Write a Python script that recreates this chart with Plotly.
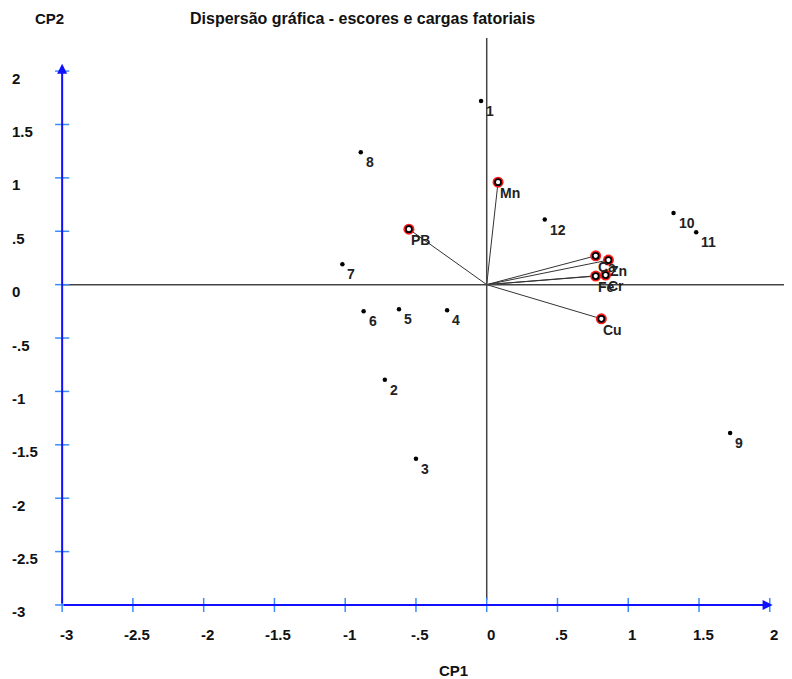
import plotly.graph_objects as go

# ---- data ----
score_labels = ["1", "2", "3", "4", "5", "6", "7", "8", "9", "10", "11", "12"]
score_x = [-0.04, -0.72, -0.50, -0.28, -0.62, -0.87, -1.02, -0.89, 1.72, 1.32, 1.48, 0.41]
score_y = [1.72, -0.89, -1.63, -0.24, -0.23, -0.25, 0.19, 1.24, -1.39, 0.67, 0.49, 0.61]

load_labels = ["PB", "Mn", "Ca", "Zn", "Cr", "Fe", "Cu"]
load_x = [-0.55, 0.08, 0.77, 0.86, 0.84, 0.77, 0.81]
load_y = [0.52, 0.96, 0.27, 0.23, 0.09, 0.08, -0.32]

tick_vals = [-3, -2.5, -2, -1.5, -1, -0.5, 0, 0.5, 1, 1.5, 2]
tick_text = ["-3", "-2.5", "-2", "-1.5", "-1", "-.5", "0", ".5", "1", "1.5", "2"]

title_text = "Dispersão gráfica - escores e cargas fatoriais"
xlab, ylab = "CP1", "CP2"

# ---- layout geometry (page has an 8px body margin) ----
OFF = 8
W, H = 792 - OFF, 679 - OFF
ML, MR, MT, MB = 48 - OFF, 1, 38 - OFF, 58
XR = [-3.1, 2.15]
YR = [-3.15, 2.31]
PW, PH = W - ML - MR, H - MT - MB

def px(x):
    return (x - OFF - ML) / PW

def py(y):
    return (H - MB - (y - OFF)) / PH

FONT = "Liberation Sans Narrow, Arial Narrow, Liberation Sans, Arial"
LFONT = "Liberation Sans, Arial"
BLUE = "#1010ff"
LBLUE = "#3a8cff"

fig = go.Figure()

# loading lines from origin
lx, ly = [], []
for a, b in zip(load_x, load_y):
    lx += [0, a, None]
    ly += [0, b, None]
fig.add_trace(go.Scatter(x=lx, y=ly, mode="lines",
                         line=dict(color="#333333", width=1), hoverinfo="skip"))

# loading markers (red ring + black ring)
fig.add_trace(go.Scatter(x=load_x, y=load_y, mode="markers",
                         marker=dict(size=11, color="#ff1a1a", line=dict(width=0))))
fig.add_trace(go.Scatter(x=load_x, y=load_y, mode="markers",
                         marker=dict(size=6, color="white", line=dict(width=1.8, color="black"))))

# score points
fig.add_trace(go.Scatter(x=score_x, y=score_y, mode="markers",
                         marker=dict(size=4.5, color="black")))

shapes = []
# black reference lines at 0
shapes.append(dict(type="line", xref="x", yref="y", x0=-3, x1=2.15, y0=0, y1=0,
                   line=dict(color="#444444", width=1.5)))
shapes.append(dict(type="line", xref="x", yref="y", x0=0, x1=0, y0=-2.95, y1=2.31,
                   line=dict(color="#444444", width=1.5)))
# tick marks
for v in tick_vals:
    shapes.append(dict(type="line", xref="x", yref="y", x0=v, x1=v, y0=-3.066, y1=-2.934,
                       line=dict(color=LBLUE, width=1.5)))
    shapes.append(dict(type="line", xref="x", yref="y", x0=-3.05, x1=-2.95, y0=v, y1=v,
                       line=dict(color=LBLUE, width=1.5)))

ann = []
# axis arrows
ann.append(dict(x=2.02, y=-3, ax=-3, ay=-3, xref="x", yref="y", axref="x", ayref="y",
                text="", showarrow=True, arrowhead=2, arrowsize=1, arrowwidth=2,
                arrowcolor=BLUE))
ann.append(dict(x=-3, y=2.07, ax=-3, ay=-3, xref="x", yref="y", axref="x", ayref="y",
                text="", showarrow=True, arrowhead=2, arrowsize=1, arrowwidth=2,
                arrowcolor=BLUE))

# tick labels
for v, t in zip(tick_vals, tick_text):
    ann.append(dict(x=v, y=-3, xref="x", yref="y", text=t, showarrow=False,
                    xanchor="center", yanchor="middle", xshift=4, yshift=-30,
                    font=dict(family=FONT, size=15, color="#111111", weight="bold")))
    ann.append(dict(x=-3, y=v, xref="x", yref="y", text=t, showarrow=False,
                    xanchor="left", yanchor="middle", xshift=-52, yshift=-7,
                    font=dict(family=FONT, size=15, color="#111111", weight="bold")))

# score labels
for t, a, b in zip(score_labels, score_x, score_y):
    ann.append(dict(x=a, y=b, xref="x", yref="y", text=t, showarrow=False,
                    xanchor="left", yanchor="middle", xshift=3, yshift=-10,
                    font=dict(family=LFONT, size=14, color="#222222", weight="bold")))

# loading labels
for t, a, b in zip(load_labels, load_x, load_y):
    ann.append(dict(x=a, y=b, xref="x", yref="y", text=t, showarrow=False,
                    xanchor="left", yanchor="middle", xshift=0, yshift=-11,
                    font=dict(family=LFONT, size=14, color="#222222", weight="bold")))

# titles
ann.append(dict(x=px(362), y=py(19), xref="paper", yref="paper", text=title_text,
                showarrow=False, xanchor="center", yanchor="middle",
                font=dict(family=FONT, size=16, color="#111111", weight="bold")))
ann.append(dict(x=px(49), y=py(19), xref="paper", yref="paper", text=ylab,
                showarrow=False, xanchor="center", yanchor="middle",
                font=dict(family=FONT, size=15, color="#111111", weight="bold")))
ann.append(dict(x=px(454), y=py(670), xref="paper", yref="paper", text=xlab,
                showarrow=False, xanchor="center", yanchor="middle",
                font=dict(family=FONT, size=15, color="#111111", weight="bold")))

fig.update_layout(
    width=W, height=H,
    margin=dict(l=ML, r=MR, t=MT, b=MB),
    paper_bgcolor="white", plot_bgcolor="white",
    showlegend=False,
    xaxis=dict(range=XR, visible=False, fixedrange=True),
    yaxis=dict(range=YR, visible=False, fixedrange=True),
    shapes=shapes, annotations=ann,
)

fig.write_html("out.html")
